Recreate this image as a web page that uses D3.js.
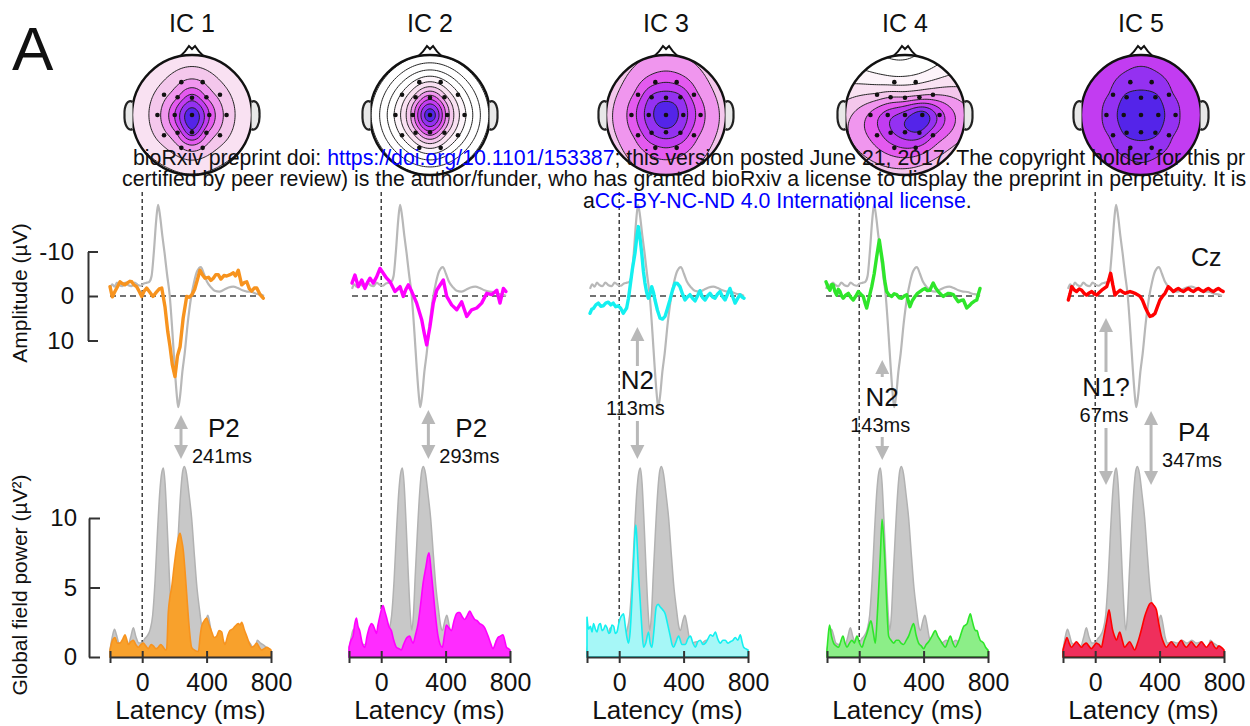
<!DOCTYPE html>
<html>
<head>
<meta charset="utf-8">
<style>
body { margin: 0; background: #fff; }
svg { font-family: "Liberation Sans", Arial, sans-serif; }
.axis path, .axis line { stroke: #333; stroke-width: 2px; }
.axis text { fill: #111; font-family: "Liberation Sans", Arial, sans-serif; }
.wm { font-size: 21.3px; fill: #111; }
.wm .lnk { fill: #0000ff; }
</style>
</head>
<body>
<svg width="1250" height="726"></svg>
<script src="https://cdn.jsdelivr.net/npm/d3@7"></script>
<script>

// ---- data ----
var components = ["IC 1", "IC 2", "IC 3", "IC 4", "IC 5"];
var latencyTicks = [-200, 0, 400, 800];
var ampTicks = [-10, 0, 10];
var gfpTicks = [0, 5, 10];

// grand average ERP at Cz (grey, same in every panel)
var czERP = [[-200,-1.6],[-185,-2.6],[-170,-2.1],[-155,-3.0],[-140,-2.5],[-120,-2.2],[-100,-3.0],[-80,-2.4],[-60,-2.2],[-40,-3.0],[-20,-2.5],[0,-2.3],[20,-2.8],[40,-3.0],[55,-3.2],[70,-4.5],[85,-10],[100,-17],[112,-20.5],[125,-18],[140,-13.5],[155,-9.5],[170,-5],[188,0],[205,8],[220,16],[233,22],[243,25],[255,22.5],[270,17],[285,12.9],[305,6],[328,0],[345,-3],[365,-5.5],[390,-6.5],[410,-5],[430,-3.2],[455,-2],[480,-1.2],[510,-1.0],[540,-1.4],[570,-1.9],[600,-2.1],[630,-1.8],[660,-1.3],[690,-1.0],[720,-0.9],[750,-0.5],[780,-0.3],[800,0]];

var czGFP = [[-200,0.5],[-185,1.5],[-172,2.0],[-160,1.6],[-145,1.0],[-125,0.9],[-105,0.9],[-90,0.8],[-72,1.4],[-55,2.1],[-40,1.5],[-20,1.0],[0,1.0],[15,1.3],[30,1.5],[50,2.0],[65,3.0],[80,5.5],[95,9],[110,12],[122,13.3],[132,13.6],[142,12.5],[155,9.5],[168,6],[180,3.2],[190,1.9],[200,3],[212,6],[225,9],[240,12],[252,13.4],[262,13.7],[275,13.2],[290,11.8],[307,10],[325,7.2],[340,5],[355,3.5],[370,2.2],[380,1.9],[395,2.6],[408,3.0],[420,2.4],[435,1.4],[450,1.0],[480,1.1],[510,1.0],[540,1.2],[570,1.0],[600,1.2],[630,1.0],[660,1.1],[685,0.7],[700,0.5],[715,1.2],[735,1.0],[760,0.8],[780,0.6],[800,0.4]];

// back-projected IC contributions at Cz (µV)
var ic1ERP = [[-200,-2.1],[-185,0.2],[-168,-1.0],[-150,-2.2],[-135,-3.2],[-120,-2.8],[-103,-2.5],[-85,-3.0],[-70,-3.3],[-59,-3.2],[-45,-2.5],[-27,-2.1],[-10,-1.0],[6,0.1],[20,-1.0],[38,-1.8],[55,-1.0],[79,0.1],[100,-0.8],[120,-1.6],[136,-1.8],[150,1.0],[157,2.4],[175,8],[190,11.4],[205,15.5],[222,18.1],[238,13.5],[255,11.4],[275,5],[298,0.1],[315,0.3],[331,-0.2],[350,-1.5],[370,-4],[384,-5.8],[400,-4.8],[417,-4],[440,-4.2],[455,-3.5],[471,-4],[487,-4.8],[503,-4.8],[520,-3.8],[540,-4.6],[558,-4.5],[580,-4.8],[601,-5.2],[615,-4.5],[633,-5.8],[655,-2.5],[672,-3.0],[688,-3.2],[705,-1.6],[720,-1.1],[737,-1.8],[753,-1.8],[775,-0.3],[795,0.5]];
var ic2ERP = [[-200,-2.9],[-181,-4.7],[-159,-2.1],[-137,-3.6],[-116,-1.7],[-100,-3.0],[-83,-4.0],[-62,-2.9],[-40,-4.3],[-18,-6.2],[3,-5.1],[25,-4.0],[47,-3.2],[79,-1.0],[112,-2.1],[133,0.1],[150,-1.5],[166,-2.5],[188,-1.0],[220,1.6],[253,5.4],[270,8.5],[285,11],[306,6.9],[328,1.6],[350,-1.3],[393,-3.6],[415,0.1],[447,2.0],[480,3.1],[512,1.3],[545,4.6],[577,3.1],[610,2.7],[642,1.6],[675,-0.6],[707,-0.3],[740,-1.3],[761,1.6],[783,-1.7],[800,-1.0]];
var ic3ERP = [[-200,3.9],[-189,3.0],[-178,2.8],[-162,2.0],[-146,1.6],[-130,2.3],[-114,2.2],[-98,1.6],[-81,1.4],[-65,2.0],[-49,1.6],[-33,2.4],[-16,2.2],[0,2.8],[16,3.9],[27,3.3],[38,2.7],[50,0.5],[60,-2.1],[75,-6],[92,-9.6],[105,-13.5],[114,-15.6],[125,-13],[136,-9.6],[147,-5.5],[157,-2.9],[168,-0.8],[179,0.5],[190,-0.5],[201,-2.1],[212,-0.8],[222,0.9],[238,3.2],[255,5.0],[271,5.2],[287,4.6],[303,2.8],[319,0.9],[335,-1.2],[352,-2.9],[368,-2.8],[384,-2.1],[400,-0.5],[417,0.9],[433,0.2],[449,-0.3],[466,0.5],[482,1.1],[498,0.0],[514,-1.2],[530,0.3],[547,0.9],[563,0.0],[579,-0.6],[596,0.2],[612,0.5],[628,-0.4],[644,-1.0],[660,0.1],[677,0.9],[693,-0.4],[709,-1.7],[725,0.0],[742,1.6],[758,0.6],[774,-0.3],[790,0.3],[800,0.5]];
var ic4ERP = [[-200,-3.2],[-187,-2.0],[-174,-1.3],[-163,-2.6],[-153,-2.5],[-142,-1.0],[-131,-0.2],[-120,-1.5],[-109,-1.0],[-98,0.0],[-88,0.5],[-72,-0.2],[-55,-0.6],[-39,0.3],[-23,0.9],[-6,0.0],[10,-1.0],[26,-0.4],[42,0.1],[53,1.5],[64,2.7],[80,0.3],[97,-2.1],[113,-5],[129,-8.8],[146,-12.6],[157,-10],[168,-7.5],[181,-3.5],[194,-1.0],[210,-0.2],[227,0.1],[243,-0.5],[259,-0.3],[275,0.4],[292,0.5],[308,0.0],[324,-0.3],[335,1.2],[345,2.4],[361,1.0],[378,0.1],[394,-0.6],[410,-1.0],[426,-1.4],[443,-1.7],[459,-1.2],[475,-1.3],[486,-2.2],[496,-2.9],[512,-1.8],[529,-1.0],[545,-0.4],[562,0.1],[578,-0.3],[594,-0.6],[611,-0.5],[627,-0.3],[643,0.5],[659,1.3],[676,1.0],[692,0.9],[703,1.8],[714,2.7],[730,2.2],[746,1.6],[762,1.2],[779,0.9],[790,-0.5],[800,-1.7]];
var ic5ERP = [[-198,0.9],[-187,-0.5],[-176,-2.1],[-160,-1.4],[-144,-1.0],[-127,-1.6],[-111,-1.3],[-95,-0.6],[-79,-0.2],[-62,-0.7],[-46,-1.0],[-30,-0.5],[-14,-0.2],[3,-0.8],[19,-1.3],[35,-1.7],[51,-2.1],[64,-3.5],[77,-5.1],[91,-2.5],[105,-0.2],[121,-0.8],[138,-1.3],[154,-0.9],[170,-0.6],[187,-0.8],[203,-1.0],[219,-0.8],[235,-0.6],[251,-0.3],[268,0.1],[284,1.0],[300,2.4],[316,3.6],[332,4.6],[348,4.4],[365,3.9],[381,2.4],[397,0.9],[413,0.1],[430,-0.6],[440,-1.3],[451,-2.1],[467,-1.6],[484,-1.0],[500,-1.4],[516,-1.7],[532,-1.3],[549,-1.0],[565,-1.4],[581,-1.7],[597,-1.3],[614,-1.0],[630,-1.4],[646,-1.7],[662,-1.3],[679,-1.0],[695,-1.4],[711,-1.7],[727,-1.3],[744,-1.0],[760,-1.4],[776,-1.7],[792,-1.3],[808,-1.0]];

// global field power of each IC (µV²)
var ic1GFP = [[-200,0.5],[-185,1.2],[-169,1.4],[-155,1.0],[-138,1.0],[-120,1.3],[-107,1.6],[-95,1.2],[-86,0.9],[-70,1.1],[-55,1.2],[-40,0.9],[-24,0.7],[-8,0.9],[7,1.0],[22,0.8],[38,0.6],[55,0.9],[69,0.8],[85,0.6],[100,0.7],[115,0.9],[131,0.7],[145,0.5],[152,0.6],[162,3.2],[172,4.3],[183,5],[198,6.5],[214,7.9],[225,8.6],[235,8.9],[245,8.4],[255,7.7],[266,6.2],[276,4.6],[290,2.4],[307,0.7],[325,0.5],[349,0.4],[360,1.5],[369,2.2],[385,2.6],[400,2.8],[416,2.3],[432,1.8],[447,1.4],[462,1.5],[478,1.9],[494,1.8],[504,1.2],[514,0.9],[530,1.5],[545,1.9],[560,2.0],[576,2.2],[597,2.4],[608,2.3],[618,2.5],[633,2.0],[649,1.5],[665,1.0],[680,0.7],[695,0.8],[711,1.0],[727,0.7],[742,0.5],[758,0.6],[773,0.7],[790,0.6],[800,0.5]];
var ic2GFP = [[-200,0.7],[-188,1.2],[-175,1.5],[-164,2.4],[-154,2.8],[-144,2.2],[-134,1.9],[-118,1.0],[-102,0.7],[-88,1.5],[-71,2.2],[-61,2.4],[-51,2.3],[-40,2.0],[-30,1.7],[-20,2.3],[-9,2.9],[1,3.4],[11,3.7],[22,3.3],[32,2.9],[48,2.2],[63,1.9],[78,1.2],[94,0.7],[110,0.6],[125,0.5],[136,0.8],[146,1.1],[160,1.4],[177,1.5],[188,1.2],[198,1.0],[213,1.6],[229,2.4],[245,3.8],[260,5.3],[278,6.5],[290,7.3],[297,7.5],[310,6.2],[322,4.8],[337,3.0],[353,1.5],[366,0.9],[380,0.7],[392,1.5],[405,2.3],[420,2.1],[436,1.9],[452,2.6],[467,3.1],[478,3.2],[488,3.2],[503,2.9],[519,2.7],[535,3.0],[550,3.3],[565,3.0],[581,2.7],[597,2.6],[612,2.4],[628,2.3],[643,2.1],[654,1.8],[664,1.5],[679,1.0],[694,0.6],[710,1.0],[725,1.4],[740,1.5],[756,1.6],[767,1.2],[778,0.7],[790,0.6],[800,0.5]];
var ic3GFP = [[-200,2.9],[-190,2.0],[-179,2.2],[-169,1.8],[-159,2.4],[-148,2.0],[-138,1.8],[-127,2.3],[-117,2.4],[-106,1.9],[-96,2.0],[-86,2.3],[-76,2.1],[-65,1.7],[-55,1.8],[-45,2.3],[-34,2.2],[-24,1.7],[-14,1.8],[-3,2.4],[7,2.8],[17,3.0],[27,3.1],[38,2.2],[48,1.4],[58,1.0],[68,1.8],[79,4.1],[90,7],[100,9.2],[104,9.5],[112,8],[120,6],[130,4.1],[140,2.2],[151,0.7],[165,1.0],[182,1.8],[192,1.0],[203,0.7],[215,1.8],[230,3.6],[242,3.8],[255,3.6],[270,3.4],[286,3.1],[300,2.4],[317,1.5],[328,0.9],[338,0.7],[350,1.0],[369,1.5],[390,0.9],[411,0.9],[426,1.3],[442,1.5],[458,1.0],[473,0.7],[488,1.1],[504,1.2],[520,0.9],[535,1.0],[551,1.3],[566,1.6],[582,1.5],[597,1.8],[612,1.3],[628,1.0],[644,1.2],[659,1.2],[675,1.0],[690,1.1],[706,1.2],[721,1.4],[737,1.2],[752,1.6],[763,1.1],[773,0.7],[785,0.6],[800,0.5]];
var ic4GFP = [[-200,0.5],[-192,1.6],[-184,2.3],[-172,1.5],[-159,1.0],[-144,0.8],[-128,0.7],[-115,1.1],[-101,1.5],[-88,1.0],[-76,0.7],[-60,1.0],[-45,1.2],[-30,1.0],[-14,1.5],[2,1.0],[17,0.7],[32,1.2],[48,1.7],[60,2.2],[73,2.6],[87,1.8],[100,1.0],[110,2.5],[121,4.9],[132,7.5],[142,9.9],[152,8.5],[162,6.3],[172,3.5],[183,1.5],[198,1.2],[214,1.0],[230,1.2],[245,1.2],[260,1.0],[276,0.9],[292,1.2],[307,1.5],[322,2.0],[338,2.4],[353,1.6],[369,1.0],[385,0.8],[400,0.6],[416,0.9],[431,1.1],[452,1.5],[473,1.9],[488,1.5],[504,1.2],[520,0.9],[535,0.7],[550,1.1],[566,1.5],[582,1.0],[597,0.7],[612,1.0],[628,1.5],[639,1.9],[649,2.2],[660,2.3],[670,2.4],[680,2.8],[690,3.1],[700,2.7],[711,2.2],[722,1.9],[732,1.9],[742,1.5],[752,1.2],[763,1.1],[773,1.0],[785,0.7],[800,0.5]];
var ic5GFP = [[-200,0.5],[-188,1.0],[-175,1.4],[-162,1.0],[-148,0.7],[-132,0.9],[-117,1.1],[-101,0.9],[-86,0.7],[-70,0.9],[-55,1.0],[-40,0.8],[-24,0.6],[-8,0.8],[7,1.0],[23,0.9],[39,0.7],[49,1.2],[59,1.8],[72,2.6],[86,3.4],[97,2.7],[107,2.0],[120,1.5],[132,1.2],[142,1.5],[152,1.8],[168,1.2],[183,0.7],[198,0.9],[214,1.1],[230,0.8],[245,0.5],[260,0.9],[276,1.5],[292,2.2],[307,2.9],[322,3.4],[337,3.8],[349,3.9],[365,3.7],[380,3.4],[395,2.4],[411,1.5],[426,1.0],[442,0.7],[457,0.9],[473,1.1],[488,0.9],[504,0.7],[520,1.0],[535,1.2],[550,0.9],[566,0.7],[582,0.9],[597,1.1],[612,0.9],[628,0.7],[644,0.9],[660,1.1],[675,0.9],[691,0.7],[706,0.9],[722,1.1],[737,0.8],[753,0.6],[768,0.8],[784,0.7],[800,0.5]];

// scalp map weights per IC, 10-20 channel order below (normalised 0..1)
var channels = ["Fp1","Fp2","F7","F3","Fz","F4","F8","T3","C3","Cz","C4","T4","T5","P3","Pz","P4","T6","O1","O2"];
var ic1Map = [0.4,0.4,0.36,0.52,0.72,0.52,0.36,0.36,0.65,1.0,0.65,0.36,0.36,0.55,0.86,0.55,0.36,0.4,0.4];
var ic2Map = [0.1,0.1,0.05,0.34,0.6,0.34,0.05,0.05,0.46,1.0,0.46,0.05,0.05,0.34,0.62,0.34,0.05,0.1,0.1];
var ic3Map = [0.62,0.62,0.58,0.8,0.86,0.8,0.58,0.58,0.84,0.97,0.84,0.58,0.58,0.78,0.86,0.78,0.58,0.62,0.62];
var ic4Map = [0.1,0.12,0.3,0.4,0.42,0.45,0.4,0.55,0.72,0.84,0.98,0.72,0.6,0.75,0.86,0.88,0.66,0.62,0.64];
var ic5Map = [0.82,0.82,0.8,0.93,0.96,0.93,0.8,0.8,0.96,1.0,0.96,0.8,0.8,0.93,0.97,0.93,0.8,0.82,0.82];

// peak annotations
var peakNames = ["P2", "P2", "N2", "N2", "N1?", "P4"];
var peakLatency = [241, 293, 113, 143, 67, 347];
var peakComponent = [0, 1, 2, 3, 4, 4];

var icERP = [ic1ERP, ic2ERP, ic3ERP, ic4ERP, ic5ERP];
var icGFP = [ic1GFP, ic2GFP, ic3GFP, ic4GFP, ic5GFP];
var icMap = [ic1Map, ic2Map, ic3Map, ic4Map, ic5Map];

// ---- layout / style ----
var lineColor = ["#f7931e", "#ff00ff", "#14f0f0", "#2ee62a", "#ff0000"];
var fillColor = ["#f8a12c", "#ff2cff", "#a6f7f7", "#8cee88", "#ef2f5c"];
var erpLeft = [110, 352, 590, 826, 1068];
var gfpLeft = [110, 349, 587, 827, 1063];
var headX = [192, 430, 666, 905, 1141];
var headY = 115, headR = 60;

// polar 10-20 positions (deg from nose, fraction of 90 deg)
var chanPolar = {Fp1:[-18,.8],Fp2:[18,.8],F7:[-54,.8],F3:[-39,.53],Fz:[0,.4],F4:[39,.53],F8:[54,.8],
  T3:[-90,.8],C3:[-90,.4],Cz:[0,0],C4:[90,.4],T4:[90,.8],T5:[-126,.8],P3:[-141,.53],Pz:[180,.4],
  P4:[141,.53],T6:[126,.8],O1:[-162,.8],O2:[162,.8]};

var peakLayout = [
  {side: true, top: 415, bottom: 459, nameY: 437, msY: 463},
  {side: true, top: 410, bottom: 459, nameY: 437, msY: 463},
  {side: false, top: 327, upEnd: 366, downStart: 421, bottom: 459, nameY: 389, msY: 415},
  {side: false, top: 360, upEnd: 377, downStart: 437, bottom: 460, nameY: 406, msY: 432},
  {side: false, top: 318, upEnd: 372, downStart: 428, bottom: 485, nameY: 396, msY: 422},
  {side: true, top: 411, bottom: 485, nameY: 441, msY: 467}
];

var svg = d3.select("svg");
var defs = svg.append("defs");

var ampY = d3.scaleLinear().domain([-10, 10]).range([251.5, 340.5]);
var gfpY = d3.scaleLinear().domain([0, 10]).range([657, 518]);

var headColor = d3.scaleLinear()
  .domain([0, 0.15, 0.32, 0.5, 0.62, 0.76, 0.9, 1.0])
  .range(["#ffffff", "#fbecf6", "#f5cdec", "#ee86ee", "#e048f0", "#b236f2", "#7a2cf0", "#3a1ee4"])
  .clamp(true);

var grey = "#b8b8b8";

// biharmonic spline (as in topoplot 'v4')
function green(r) { return r > 1e-9 ? r * r * (Math.log(r) - 1) : 0; }
function solve(A, b) {
  var n = b.length, M = A.map(function(row, i) { return row.concat([b[i]]); });
  for (var c = 0; c < n; c++) {
    var p = c;
    for (var r = c + 1; r < n; r++) if (Math.abs(M[r][c]) > Math.abs(M[p][c])) p = r;
    var t = M[c]; M[c] = M[p]; M[p] = t;
    for (var r2 = c + 1; r2 < n; r2++) {
      var f = M[r2][c] / M[c][c];
      for (var k = c; k <= n; k++) M[r2][k] -= f * M[c][k];
    }
  }
  var x = new Array(n);
  for (var i = n - 1; i >= 0; i--) {
    var s = M[i][n];
    for (var j = i + 1; j < n; j++) s -= M[i][j] * x[j];
    x[i] = s / M[i][i];
  }
  return x;
}

// ---- scalp maps ----
function drawHead(i) {
  var g = svg.append("g").attr("transform", "translate(" + headX[i] + "," + headY + ")");
  var k = 0.72;
  var pts = channels.map(function(c, j) {
    var a = chanPolar[c][0] * Math.PI / 180, r = chanPolar[c][1] * k;
    return {x: r * Math.sin(a), y: -r * Math.cos(a), v: icMap[i][j]};
  });
  var G = pts.map(function(p) { return pts.map(function(q) { return green(Math.hypot(p.x - q.x, p.y - q.y)); }); });
  var w = solve(G, pts.map(function(p) { return p.v; }));
  var n = 72, span = 2.2;
  var grid = new Array(n * n);
  for (var row = 0; row < n; row++) {
    for (var col = 0; col < n; col++) {
      var x = (col + 0.5) / n * span - span / 2, y = (row + 0.5) / n * span - span / 2;
      var s = 0;
      for (var e = 0; e < pts.length; e++) s += w[e] * green(Math.hypot(x - pts[e].x, y - pts[e].y));
      grid[row * n + col] = s;
    }
  }
  var bands = d3.contours().size([n, n]).thresholds(d3.range(-0.6, 1.0, 0.125))(grid);
  var path = d3.geoPath(d3.geoIdentity().scale(span * headR / n).translate([-span * headR / 2, -span * headR / 2]));

  defs.append("clipPath").attr("id", "clip" + i)
    .append("circle").attr("r", headR);

  var inner = g.append("g").attr("clip-path", "url(#clip" + i + ")");
  inner.append("circle").attr("r", headR).attr("fill", headColor(d3.min(grid)));
  inner.selectAll("path").data(bands.filter(function(b) { return b.coordinates.length; })).join("path")
    .attr("d", path)
    .attr("fill", function(d) { return headColor(d.value + 0.06); })
    .attr("stroke", "#222").attr("stroke-width", 1);

  g.append("circle").attr("r", headR).attr("fill", "none").attr("stroke", "#111").attr("stroke-width", 2.4);
  g.append("path").attr("d", "M-12,-58.5 Q-6,-64 -3,-69 L0,-66 L3,-69 Q6,-64 12,-58.5")
    .attr("fill", "none").attr("stroke", "#111").attr("stroke-width", 2);
  [-1, 1].forEach(function(s) {
    g.append("path")
      .attr("d", "M" + (s * 59.5) + ",-13 C" + (s * 64) + ",-16 " + (s * 68) + ",-10 " + (s * 67.5) + ",0 C" + (s * 68) + ",9 " + (s * 64) + ",17 " + (s * 59.5) + ",14")
      .attr("fill", "#e8e8e8").attr("stroke", "#222").attr("stroke-width", 2.2);
  });
  g.selectAll("circle.el").data(pts).join("circle").attr("class", "el")
    .attr("cx", function(d) { return d.x * headR; })
    .attr("cy", function(d) { return d.y * headR; })
    .attr("r", 2.3).attr("fill", "#111");

  svg.append("text").attr("x", headX[i]).attr("y", 32).attr("text-anchor", "middle")
    .style("font-size", "25px").attr("fill", "#111").text(components[i]);
}

// ---- arrows ----
function arrowHead(g, x, tip, dir) {
  g.append("path")
    .attr("d", "M" + x + "," + tip + " L" + (x - 7) + "," + (tip + dir * 14) + " L" + (x + 7) + "," + (tip + dir * 14) + "Z")
    .attr("fill", grey);
}

components.forEach(function(name, i) {
  var erpX = d3.scaleLinear().domain([-200, 800]).range([erpLeft[i], erpLeft[i] + 154]);
  var gfpX = d3.scaleLinear().domain([-200, 800]).range([gfpLeft[i], gfpLeft[i] + 161]);
  var g = svg.append("g");

  // stimulus onset
  g.append("line")
    .attr("x1", gfpX(0)).attr("x2", gfpX(0))
    .attr("y1", 192).attr("y2", 655)
    .attr("stroke", "#222").attr("stroke-width", 1.3).attr("stroke-dasharray", "4,3");

  // GFP
  var area = d3.area()
    .x(function(d) { return gfpX(d[0]); })
    .y0(gfpY(0))
    .y1(function(d) { return gfpY(d[1]); })
    .curve(d3.curveMonotoneX);
  g.append("path").datum(czGFP).attr("d", area)
    .attr("fill", "#c8c8c8").attr("stroke", "#b2b2b2").attr("stroke-width", 1.5);
  g.append("path").datum(icGFP[i]).attr("d", area)
    .attr("fill", fillColor[i]).attr("stroke", lineColor[i]).attr("stroke-width", 1.6);

  var xAxis = d3.axisBottom(gfpX).tickValues(latencyTicks).tickSizeOuter(0).tickSizeInner(6).tickPadding(10)
    .tickFormat(function(d) { return d < 0 ? "" : String(d); });
  var ax = g.append("g").attr("class", "axis").attr("transform", "translate(0," + gfpY(0) + ")").call(xAxis);
  ax.selectAll(".tick line").attr("y1", -6).attr("y2", 6);
  ax.selectAll(".tick text").style("font-size", "25px");

  g.append("text").attr("x", gfpX(300)).attr("y", 719).attr("text-anchor", "middle")
    .style("font-size", "26px").attr("fill", "#111").text("Latency (ms)");

  // ERP
  g.append("line")
    .attr("x1", erpX(-200)).attr("x2", erpX(800))
    .attr("y1", ampY(0)).attr("y2", ampY(0))
    .attr("stroke", "#444").attr("stroke-width", 1.5).attr("stroke-dasharray", "6,4");
  var line = d3.line()
    .x(function(d) { return erpX(d[0]); })
    .y(function(d) { return ampY(d[1]); });
  g.append("path").datum(czERP).attr("d", line.curve(d3.curveMonotoneX))
    .attr("fill", "none").attr("stroke", grey).attr("stroke-width", 2.2);
  g.append("path").datum(icERP[i]).attr("d", line.curve(d3.curveLinear))
    .attr("fill", "none").attr("stroke", lineColor[i]).attr("stroke-width", 3.4)
    .attr("stroke-linejoin", "round").attr("stroke-linecap", "round");

  // annotations for this panel
  peakNames.forEach(function(pn, j) {
    if (peakComponent[j] !== i) return;
    var L = peakLayout[j], x = gfpX(peakLatency[j]);
    var a = g.append("g");
    if (L.side) {
      a.append("line").attr("x1", x).attr("x2", x).attr("y1", L.top + 10).attr("y2", L.bottom - 10)
        .attr("stroke", grey).attr("stroke-width", 3);
      arrowHead(a, x, L.top, 1);
      arrowHead(a, x, L.bottom, -1);
      a.append("text").attr("x", x + 27).attr("y", L.nameY).style("font-size", "26px").attr("fill", "#111").text(pn);
      a.append("text").attr("x", x + 11).attr("y", L.msY).style("font-size", "20px").attr("fill", "#111").text(peakLatency[j] + "ms");
    } else {
      a.append("line").attr("x1", x).attr("x2", x).attr("y1", L.top + 10).attr("y2", L.upEnd)
        .attr("stroke", grey).attr("stroke-width", 3);
      a.append("line").attr("x1", x).attr("x2", x).attr("y1", L.downStart).attr("y2", L.bottom - 10)
        .attr("stroke", grey).attr("stroke-width", 3);
      arrowHead(a, x, L.top, 1);
      arrowHead(a, x, L.bottom, -1);
      a.append("text").attr("x", x).attr("y", L.nameY).attr("text-anchor", "middle").style("font-size", "26px").attr("fill", "#111").text(pn);
      a.append("text").attr("x", x - 2).attr("y", L.msY).attr("text-anchor", "middle").style("font-size", "20px").attr("fill", "#111").text(peakLatency[j] + "ms");
    }
  });

  drawHead(i);
});

// y axes on the first panel
var ampAxis = d3.axisLeft(ampY).tickValues(ampTicks).tickSizeOuter(0).tickSizeInner(-10).tickPadding(14)
  .tickFormat(function(d) { return String(d); });
svg.append("g").attr("class", "axis yax").attr("transform", "translate(88,0)").call(ampAxis);
var gfpAxis = d3.axisLeft(gfpY).tickValues(gfpTicks).tickSizeOuter(0).tickSizeInner(-11).tickPadding(12)
  .tickFormat(function(d) { return String(d); });
svg.append("g").attr("class", "axis yax").attr("transform", "translate(89,0)").call(gfpAxis);
svg.selectAll(".yax text").style("font-size", "24px");

svg.append("text").attr("transform", "translate(27,293) rotate(-90)").attr("text-anchor", "middle")
  .style("font-size", "21px").attr("fill", "#111").text("Amplitude (\u00b5V)");
svg.append("text").attr("transform", "translate(27,585) rotate(-90)").attr("text-anchor", "middle")
  .style("font-size", "21px").attr("fill", "#111").text("Global field power (\u00b5V\u00b2)");

svg.append("text").attr("x", 1191).attr("y", 266).style("font-size", "25px").attr("fill", "#111").text("Cz");
svg.append("text").attr("x", 12).attr("y", 70).style("font-size", "62px").attr("fill", "#111").text("A");

// preprint watermark (as cut at the page edge in the source)
var w1 = svg.append("text").attr("class", "wm").attr("x", 133).attr("y", 165);
w1.append("tspan").text("bioRxiv preprint doi: ");
w1.append("tspan").attr("class", "lnk").text("https://doi.org/10.1101/153387");
w1.append("tspan").text("; this version posted June 21, 2017. The copyright holder for this pr");
svg.append("text").attr("class", "wm").attr("x", 122).attr("y", 186)
  .text("certified by peer review) is the author/funder, who has granted bioRxiv a license to display the preprint in perpetuity. It is");
var w3 = svg.append("text").attr("class", "wm").attr("x", 583).attr("y", 208);
w3.append("tspan").text("a");
w3.append("tspan").attr("class", "lnk").text("CC-BY-NC-ND 4.0 International license");
w3.append("tspan").text(".");

</script>
</body>
</html>
